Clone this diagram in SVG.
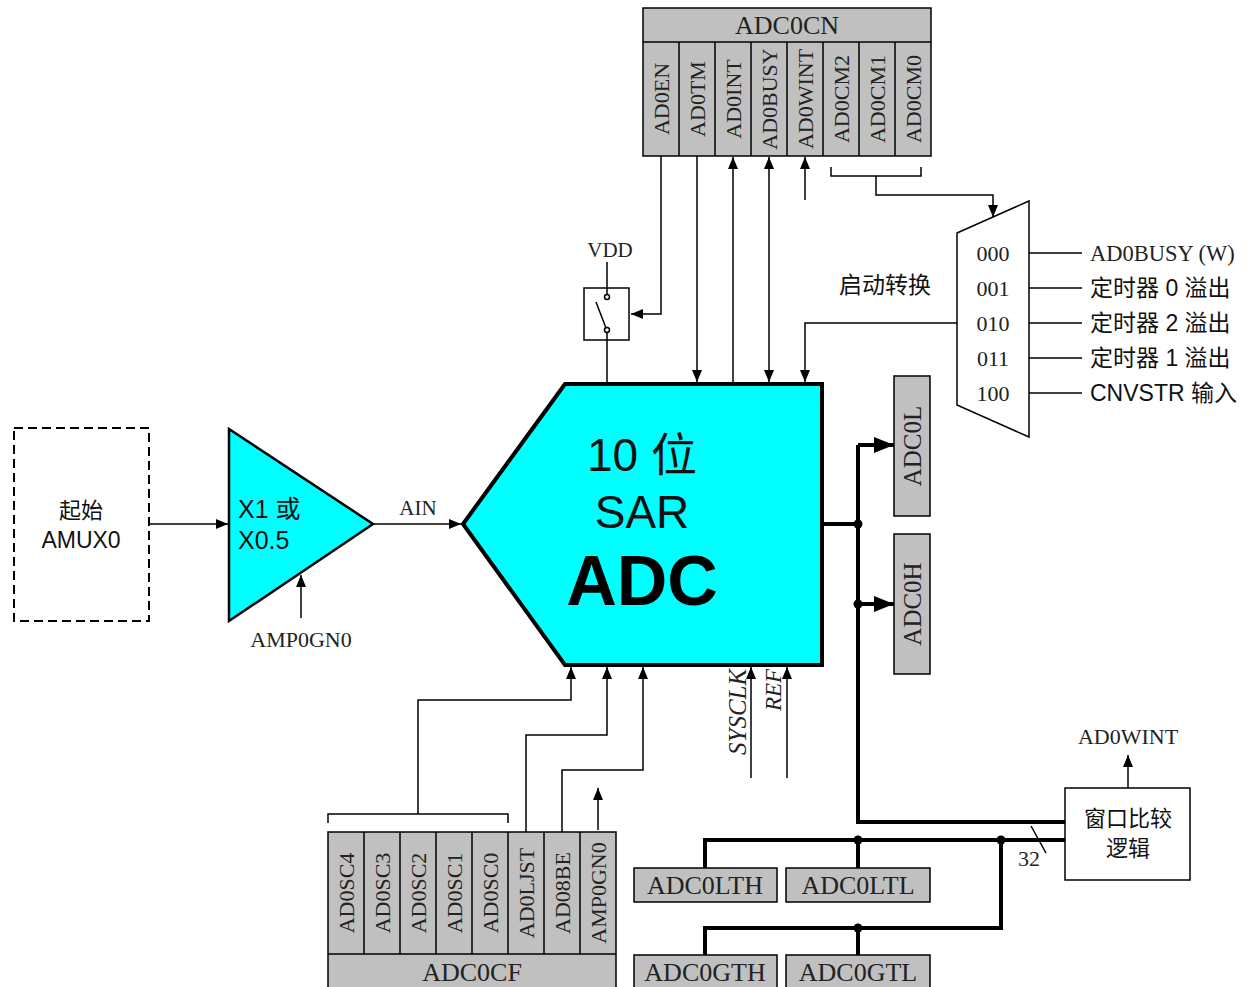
<svg xmlns="http://www.w3.org/2000/svg" width="1250" height="987" viewBox="0 0 1250 987">
<defs>
<marker id="ah" viewBox="0 0 12 10" refX="12" refY="5" markerWidth="12" markerHeight="10" orient="auto-start-reverse" markerUnits="userSpaceOnUse"><path d="M0,0 L12,5 L0,10 z" fill="#000"/></marker>
<marker id="ahb" viewBox="0 0 20 16" refX="20" refY="8" markerWidth="20" markerHeight="16" orient="auto" markerUnits="userSpaceOnUse"><path d="M0,0 L20,8 L0,16 z" fill="#000"/></marker>
</defs>
<style>
.reg{fill:#C0C0C0;stroke:#000;stroke-width:1.5}
.ser{font-family:"Liberation Serif","Noto Sans CJK SC",serif;fill:#222}
.san{font-family:"Liberation Sans","Noto Sans CJK SC",sans-serif;fill:#111}
.thin{fill:none;stroke:#000;stroke-width:1.5}
.thick{fill:none;stroke:#000;stroke-width:4}
.cell{font-size:22px;text-anchor:middle}
.mid{text-anchor:middle}
</style>
<rect width="1250" height="987" fill="#fff"/>

<g id="adc0cn">
<rect class="reg" x="643" y="8" width="288" height="148"/>
<line class="thin" x1="643" y1="42" x2="931" y2="42"/>
<path class="thin" d="M679,42V156M715,42V156M751,42V156M787,42V156M823,42V156M859,42V156M895,42V156"/>
<text class="ser mid" x="787" y="34" font-size="26">ADC0CN</text>
<text class="ser cell" transform="rotate(-90 669 99)" x="669" y="99">AD0EN</text>
<text class="ser cell" transform="rotate(-90 705 99)" x="705" y="99">AD0TM</text>
<text class="ser cell" transform="rotate(-90 741 99)" x="741" y="99">AD0INT</text>
<text class="ser cell" transform="rotate(-90 777 99)" x="777" y="99">AD0BUSY</text>
<text class="ser cell" transform="rotate(-90 813 99)" x="813" y="99">AD0WINT</text>
<text class="ser cell" transform="rotate(-90 849 99)" x="849" y="99">AD0CM2</text>
<text class="ser cell" transform="rotate(-90 885 99)" x="885" y="99">AD0CM1</text>
<text class="ser cell" transform="rotate(-90 921 99)" x="921" y="99">AD0CM0</text>
</g>

<g id="switch">
<rect x="584" y="288" width="45" height="52" fill="#fff" stroke="#000" stroke-width="1.5"/>
<circle cx="607" cy="297" r="2.5" fill="#fff" stroke="#000" stroke-width="1.5"/>
<circle cx="607" cy="330" r="2.5" fill="#fff" stroke="#000" stroke-width="1.5"/>
<line class="thin" x1="596" y1="302" x2="606" y2="328"/>
<text class="ser mid" x="610" y="257" font-size="21">VDD</text>
</g>

<g id="mux">
<polygon points="957,233 1029,201 1029,437 957,405" fill="#fff" stroke="#000" stroke-width="1.5"/>
<text class="ser mid" x="993" y="261" font-size="22">000</text>
<text class="ser mid" x="993" y="296" font-size="22">001</text>
<text class="ser mid" x="993" y="331" font-size="22">010</text>
<text class="ser mid" x="993" y="366" font-size="22">011</text>
<text class="ser mid" x="993" y="401" font-size="22">100</text>
<path class="thin" d="M1029,253H1082M1029,288H1082M1029,323H1082M1029,358H1082M1029,393H1082"/>
<text class="ser" x="1090" y="261" font-size="22.5">AD0BUSY (W)</text>
<text class="san" x="1090" y="296" font-size="23">定时器 0 溢出</text>
<text class="san" x="1090" y="331" font-size="23">定时器 2 溢出</text>
<text class="san" x="1090" y="366" font-size="23">定时器 1 溢出</text>
<text class="san" x="1090" y="401" font-size="23">CNVSTR 输入</text>
<text class="san mid" x="885" y="293" font-size="23">启动转换</text>
</g>

<g id="amux0">
<rect x="14" y="428" width="135" height="193" fill="#fff" stroke="#000" stroke-width="2" stroke-dasharray="9,5"/>
<text class="san mid" x="81" y="518" font-size="22">起始</text>
<text class="san mid" x="81" y="548" font-size="23">AMUX0</text>
</g>

<g id="amp">
<polygon points="229,429 373,524 229,621" fill="#00FFFF" stroke="#000" stroke-width="2.5"/>
<text class="san" x="238" y="518" font-size="25">X1 或</text>
<text class="san" x="238" y="549" font-size="25">X0.5</text>
<text class="ser mid" x="301" y="647" font-size="22">AMP0GN0</text>
<text class="ser mid" x="418" y="515" font-size="21">AIN</text>
</g>

<g id="adc">
<polygon points="565,384 822,384 822,665 565,665 463,524" fill="#00FFFF" stroke="#000" stroke-width="4"/>
<text class="san mid" x="642" y="471" font-size="46">10 位</text>
<text class="san mid" x="642" y="528" font-size="46">SAR</text>
<text class="san mid" x="642" y="605" font-size="70" font-weight="bold" style="fill:#000">ADC</text>
<text class="ser" transform="rotate(-90 746 755)" x="746" y="755" font-size="25" font-style="italic">SYSCLK</text>
<text class="ser" transform="rotate(-90 781 711)" x="781" y="711" font-size="23" font-style="italic">REF</text>
</g>

<g id="adc0l">
<rect class="reg" x="894" y="376" width="36" height="140"/>
<text class="ser mid" transform="rotate(-90 921 446)" x="921" y="446" font-size="25">ADC0L</text>
</g>
<g id="adc0h">
<rect class="reg" x="894" y="534" width="36" height="140"/>
<text class="ser mid" transform="rotate(-90 921 604)" x="921" y="604" font-size="25">ADC0H</text>
</g>

<g id="window">
<rect x="1065" y="788" width="125" height="92" fill="#fff" stroke="#000" stroke-width="1.5"/>
<text class="san mid" x="1128" y="826" font-size="22">窗口比较</text>
<text class="san mid" x="1128" y="856" font-size="22">逻辑</text>
<text class="ser mid" x="1128" y="744" font-size="22">AD0WINT</text>
<text class="ser mid" x="1029" y="866" font-size="22">32</text>
</g>

<g id="adc0lth"><rect class="reg" x="634" y="868" width="143" height="34"/><text class="ser mid" x="705" y="894" font-size="26">ADC0LTH</text></g>
<g id="adc0ltl"><rect class="reg" x="786" y="868" width="144" height="34"/><text class="ser mid" x="858" y="894" font-size="26">ADC0LTL</text></g>
<g id="adc0gth"><rect class="reg" x="634" y="955" width="143" height="40"/><text class="ser mid" x="705" y="981" font-size="26">ADC0GTH</text></g>
<g id="adc0gtl"><rect class="reg" x="786" y="955" width="144" height="40"/><text class="ser mid" x="858" y="981" font-size="26">ADC0GTL</text></g>

<g id="adc0cf">
<rect class="reg" x="328" y="832" width="288" height="163"/>
<line class="thin" x1="328" y1="954" x2="616" y2="954"/>
<path class="thin" d="M364,832V954M400,832V954M436,832V954M472,832V954M508,832V954M544,832V954M580,832V954"/>
<text class="ser mid" x="472" y="981" font-size="26">ADC0CF</text>
<text class="ser cell" transform="rotate(-90 354 893)" x="354" y="893">AD0SC4</text>
<text class="ser cell" transform="rotate(-90 390 893)" x="390" y="893">AD0SC3</text>
<text class="ser cell" transform="rotate(-90 426 893)" x="426" y="893">AD0SC2</text>
<text class="ser cell" transform="rotate(-90 462 893)" x="462" y="893">AD0SC1</text>
<text class="ser cell" transform="rotate(-90 498 893)" x="498" y="893">AD0SC0</text>
<text class="ser cell" transform="rotate(-90 534 893)" x="534" y="893">AD0LJST</text>
<text class="ser cell" transform="rotate(-90 570 893)" x="570" y="893">AD08BE</text>
<text class="ser cell" transform="rotate(-90 606 893)" x="606" y="893">AMP0GN0</text>
</g>

<g id="connectors">
<polyline class="thin" points="661,156 661,314 631,314" marker-end="url(#ah)"/>
<line class="thin" x1="697" y1="156" x2="697" y2="382" marker-end="url(#ah)"/>
<line class="thin" x1="733" y1="382" x2="733" y2="157" marker-end="url(#ah)"/>
<line class="thin" x1="769" y1="382" x2="769" y2="157" marker-start="url(#ah)" marker-end="url(#ah)"/>
<line class="thin" x1="805" y1="200" x2="805" y2="157" marker-end="url(#ah)"/>
<polyline class="thin" points="957,323 805,323 805,382" marker-end="url(#ah)"/>
<path class="thin" d="M831,167V176H921V167"/>
<polyline class="thin" points="876,176 876,195 993,195 993,217" marker-end="url(#ah)"/>
<path class="thin" d="M607,262V294.5M607,332.5V382"/>
<line class="thin" x1="149" y1="524" x2="228" y2="524" marker-end="url(#ah)"/>
<line class="thin" x1="373" y1="524" x2="461" y2="524" marker-end="url(#ah)"/>
<line class="thin" x1="301" y1="618" x2="301" y2="575" marker-end="url(#ah)"/>
<path class="thick" d="M824,524H858M858,445V822H1065"/>
<line class="thick" x1="858" y1="445" x2="894" y2="445" marker-end="url(#ahb)"/>
<line class="thick" x1="858" y1="604" x2="894" y2="604" marker-end="url(#ahb)"/>
<path class="thick" d="M705,868V840H1065M858,840V868M1001,840V928H705V955M858,928V955"/>
<circle cx="858" cy="524" r="4.5"/>
<circle cx="858" cy="604" r="4.5"/>
<circle cx="858" cy="840" r="4.5"/>
<circle cx="1001" cy="840" r="4.5"/>
<circle cx="858" cy="928" r="4.5"/>
<line class="thin" x1="1128" y1="788" x2="1128" y2="755" marker-end="url(#ah)"/>
<line class="thin" x1="1031" y1="826" x2="1046" y2="853"/>
<path class="thin" d="M328,823V814H508V823"/>
<polyline class="thin" points="418,814 418,700 571,700 571,667" marker-end="url(#ah)"/>
<polyline class="thin" points="526,832 526,735 607,735 607,667" marker-end="url(#ah)"/>
<polyline class="thin" points="562,832 562,770 643,770 643,667" marker-end="url(#ah)"/>
<line class="thin" x1="598" y1="830" x2="598" y2="788" marker-end="url(#ah)"/>
<line class="thin" x1="751" y1="778" x2="751" y2="667" marker-end="url(#ah)"/>
<line class="thin" x1="787" y1="778" x2="787" y2="667" marker-end="url(#ah)"/>
</g>
</svg>
